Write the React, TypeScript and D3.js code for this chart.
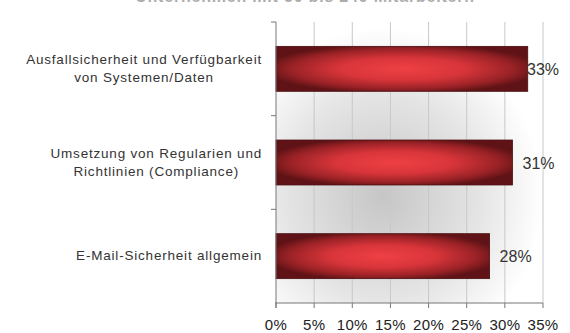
import React, { useEffect, useRef } from "react";
import * as d3 from "d3";

const title = "Unternehmen mit 50 bis 249 Mitarbeitern";
const categories = [
  ["Ausfallsicherheit und Verfügbarkeit", "von Systemen/Daten"],
  ["Umsetzung von Regularien und", "Richtlinien (Compliance)"],
  ["E-Mail-Sicherheit allgemein"],
];
const values = [33, 31, 28];
const xTicks = [0, 5, 10, 15, 20, 25, 30, 35];

const W = 570, H = 333;
const M = { left: 276, right: 27, top: 22, bottom: 30 };

export default function App() {
  const ref = useRef<SVGSVGElement>(null);
  useEffect(() => {
    const svg = d3.select(ref.current);
    svg.selectAll("*").remove();
    const x = d3.scaleLinear().domain([0, 35]).range([M.left, W - M.right]);
    const idx = categories.map((_, i) => String(i));
    const y = d3.scaleBand().domain(idx).range([M.top, H - M.bottom]).paddingInner(0.52).paddingOuter(0.26);
    const defs = svg.append("defs");
    const bg = defs.append("radialGradient").attr("id", "bg").attr("cx", 0.4).attr("cy", 0.62).attr("r", 0.6);
    bg.append("stop").attr("offset", 0).attr("stop-color", "#c6c6c6");
    bg.append("stop").attr("offset", 0.6).attr("stop-color", "#e4e4e4");
    bg.append("stop").attr("offset", 1).attr("stop-color", "#ffffff");
    const bar = defs.append("radialGradient").attr("id", "bar").attr("cx", 0.5).attr("cy", 0.5).attr("r", 0.55);
    bar.append("stop").attr("offset", 0).attr("stop-color", "#ee4044");
    bar.append("stop").attr("offset", 0.45).attr("stop-color", "#d8353a");
    bar.append("stop").attr("offset", 0.8).attr("stop-color", "#9a2226");
    bar.append("stop").attr("offset", 1).attr("stop-color", "#601316");

    const font = "Liberation Sans, Arial, sans-serif";
    // title (cut off at top, as in the reference)
    svg.append("text").attr("x", 305).attr("y", 2).attr("text-anchor", "middle")
      .attr("font-family", font).attr("font-weight", "bold")
      .attr("font-size", 16).attr("letter-spacing", 0.8).attr("fill", "#6a6a6a").attr("opacity", 0.55).text(title);

    const plotB = H - M.bottom;
    svg.append("rect").attr("x", M.left).attr("y", M.top).attr("width", x(35) - M.left)
      .attr("height", plotB - M.top).attr("fill", "url(#bg)");

    // gridlines
    svg.append("g").selectAll("line").data(xTicks.slice(1)).join("line")
      .attr("x1", d => x(d)).attr("x2", d => x(d)).attr("y1", M.top).attr("y2", plotB)
      .attr("stroke", "#c8c8c8").attr("stroke-width", 1);

    // bars
    svg.append("g").selectAll("rect").data(values).join("rect")
      .attr("x", x(0)).attr("y", (_, i) => y(String(i))!)
      .attr("width", d => x(d) - x(0)).attr("height", y.bandwidth())
      .attr("fill", "url(#bar)").attr("stroke", "#4a0d10").attr("stroke-width", 0.8);

    // axes
    svg.append("line").attr("x1", M.left).attr("x2", M.left).attr("y1", M.top).attr("y2", plotB + 5)
      .attr("stroke", "#777");
    svg.append("line").attr("x1", M.left - 1).attr("x2", x(35)).attr("y1", plotB).attr("y2", plotB)
      .attr("stroke", "#777");
    const catTicks = d3.range(categories.length + 1).map(i => M.top + i * (plotB - M.top) / categories.length);
    svg.append("g").selectAll("line").data(catTicks.slice(0, -1)).join("line")
      .attr("x1", M.left - 5).attr("x2", M.left).attr("y1", d => d).attr("y2", d => d)
      .attr("stroke", "#777");
    svg.append("g").selectAll("line").data(xTicks).join("line")
      .attr("x1", d => x(d)).attr("x2", d => x(d)).attr("y1", plotB).attr("y2", plotB + 5)
      .attr("stroke", "#777");
    svg.append("g").selectAll("text").data(xTicks).join("text")
      .attr("x", d => x(d)).attr("y", plotB + 27).attr("text-anchor", "middle")
      .attr("font-family", font).attr("font-size", 15).attr("letter-spacing", 0.3).attr("fill", "#222")
      .text(d => d + "%");

    // value labels
    svg.append("g").selectAll("text").data(values).join("text")
      .attr("x", d => Math.min(x(d) + 10, W - 43)).attr("y", (_, i) => y(String(i))! + y.bandwidth() / 2 + 6)
      .attr("font-family", font).attr("font-size", 16).attr("fill", "#333")
      .text(d => d + "%");

    // category labels: block right-aligned at 262, lines centered
    const rightEdge = 262;
    categories.forEach((lines, i) => {
      const cy = y(String(i))! + y.bandwidth() / 2;
      const g = svg.append("g");
      const lh = 18;
      const t = g.selectAll("text").data(lines).join("text")
        .attr("y", (_, j) => cy + (j - (lines.length - 1) / 2) * lh + 4)
        .attr("font-family", font).attr("font-size", 13.5).attr("letter-spacing", 0.8).attr("fill", "#333")
        .attr("text-anchor", "middle").text(d => d);
      let maxW = 0;
      t.each(function () { maxW = Math.max(maxW, (this as SVGTextElement).getComputedTextLength()); });
      t.attr("x", rightEdge - maxW / 2);
    });
  }, []);
  return <svg ref={ref} width={W} height={H} style={{ position: "absolute", left: 0, top: 0, background: "#fff" }} />;
}
